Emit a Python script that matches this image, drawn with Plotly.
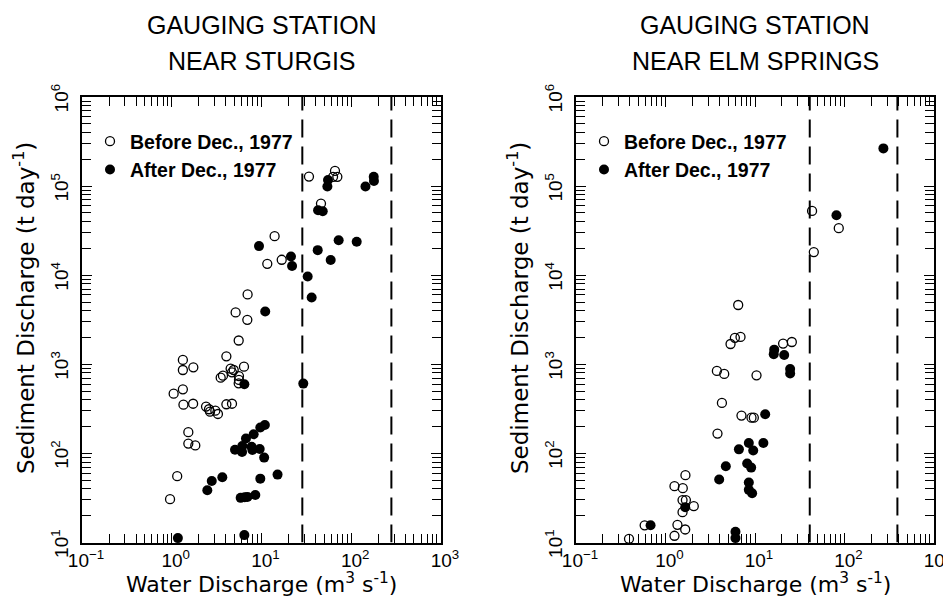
import plotly.graph_objects as go

# ---------------- data ----------------
# Left panel: Gauging station near Sturgis
sturgis_before_q = [33.8, 65.9, 62.7, 70.0, 46.0, 14.0, 11.6, 16.8, 7.0, 5.15, 6.95, 5.57, 4.06,
                    1.33, 1.33, 1.74, 6.38, 4.53, 4.90, 4.69, 3.72, 3.51, 5.61, 5.61, 5.57, 1.33,
                    1.05, 1.35, 1.73, 2.41, 2.60, 2.67, 3.06, 3.27, 4.06, 4.69, 1.53, 1.53, 1.83,
                    1.15, 0.957]
sturgis_before_s = [128000, 148000, 127000, 127000, 63700, 27400, 13400, 14900, 6080, 3820, 3160,
                    1850, 1230, 1120, 863, 925, 940, 893, 863, 813, 745, 708, 738, 667, 611, 524,
                    468, 352, 361, 335, 313, 294, 302, 277, 356, 361, 173, 129, 123, 55.5, 30.6]
sturgis_after_q = [55.1, 54.2, 42.7, 48.1, 144, 178, 179, 9.38, 21.3, 21.9, 42.3, 72.4, 115, 59.0,
                   32.7, 36.2, 11.0, 6.44, 29.2, 10.9, 9.70, 8.18, 6.71, 5.07, 6.07, 6.11, 7.76,
                   7.91, 9.55, 10.7, 3.66, 2.79, 2.49, 9.70, 15.1, 5.86, 6.50, 6.97, 8.53, 1.17, 6.44]
sturgis_after_s = [117000, 98900, 53600, 52200, 98900, 127000, 114000, 21200, 16200, 12700, 19100,
                   24700, 23700, 14800, 9680, 5620, 3920, 596, 607, 208, 195, 164, 147, 110, 104,
                   121, 119, 109, 112, 89.7, 54.0, 49.1, 38.6, 52.1, 57.8, 31.7, 32.2, 32.5, 34.2,
                   11.2, 12.1]
sturgis_limits = [28.5, 280]

# Right panel: Gauging station near Elm Springs
elm_before_q = [43.4, 45.4, 86.3, 6.49, 5.33, 5.96, 6.89, 20.6, 25.8, 3.75, 4.53, 10.4, 4.27, 7.06,
                9.14, 9.70, 3.81, 1.67, 1.26, 1.56, 1.55, 1.69, 1.55, 2.07, 1.36, 1.66, 1.26,
                0.585, 0.391]
elm_before_s = [52600, 18200, 33700, 4630, 1690, 1980, 2030, 1710, 1780, 843, 780, 753, 369, 266,
                252, 252, 167, 56.9, 42.9, 40.7, 29.9, 29.9, 21.9, 25.6, 15.8, 14.0, 11.9, 15.6, 11.0]
elm_after_q = [81.3, 272, 16.4, 16.2, 21.2, 24.7, 24.7, 13.0, 8.53, 12.4, 6.61, 9.55, 4.72, 8.18,
               9.06, 3.98, 8.53, 8.53, 9.29, 1.66, 0.681, 6.05, 6.05]
elm_after_s = [47000, 265000, 1460, 1300, 1270, 887, 787, 275, 131, 131, 111, 108, 71.8, 76.9, 69.3,
               50.9, 47.1, 39.0, 35.7, 24.9, 15.6, 13.2, 11.2]
elm_limits = [40.9, 390]

# axis ticks
x_major = [0.1, 1, 10, 100, 1000]
x_major_text = ["10<sup>−1</sup>", "10<sup>0</sup>", "10<sup>1</sup>", "10<sup>2</sup>", "10<sup>3</sup>"]
y_major = [10, 100, 1000, 10000, 100000, 1000000]
y_major_text = ["10<sup>1</sup>", "10<sup>2</sup>", "10<sup>3</sup>", "10<sup>4</sup>",
                "10<sup>5</sup>", "10<sup>6</sup>"]
minor_mult = [2, 3, 4, 5, 6, 7, 8, 9]

panel_titles = [("GAUGING STATION", "NEAR STURGIS"), ("GAUGING STATION", "NEAR ELM SPRINGS")]
legend_names = ["Before Dec., 1977", "After Dec., 1977"]
x_title = "Water Discharge (m<sup>3</sup> s<sup>-1</sup>)"
y_title = "Sediment Discharge (t day<sup>-1</sup>)"

# ---------------- figure ----------------
W, H = 951, 596
FONT = "Liberation Sans, Arial, Helvetica, sans-serif"
WIDE = "DejaVu Sans, Verdana, sans-serif"

x_minor = [m * v for v in x_major[:-1] for m in minor_mult]
y_minor = [m * v for v in y_major[:-1] for m in minor_mult]

fig = go.Figure()

panels = [
    (sturgis_before_q, sturgis_before_s, sturgis_after_q, sturgis_after_s, sturgis_limits, "x", "y", "legend"),
    (elm_before_q, elm_before_s, elm_after_q, elm_after_s, elm_limits, "x2", "y2", "legend2"),
]

for bq, bs, aq, as_, lims, xa, ya, lg in panels:
    for v in lims:
        fig.add_trace(go.Scatter(x=[v, v], y=[y_major[0], y_major[-1]], mode="lines",
                                 line=dict(color="black", width=2, dash="18px,9px"),
                                 xaxis=xa, yaxis=ya, showlegend=False, hoverinfo="skip"))
    fig.add_trace(go.Scatter(x=bq, y=bs, mode="markers", name=legend_names[0],
                             marker=dict(symbol="circle-open", size=9, color="black",
                                         line=dict(width=1.3, color="black")),
                             xaxis=xa, yaxis=ya, legend=lg, cliponaxis=False))
    fig.add_trace(go.Scatter(x=aq, y=as_, mode="markers", name=legend_names[1],
                             marker=dict(symbol="circle", size=10, color="black"),
                             xaxis=xa, yaxis=ya, legend=lg, cliponaxis=False))

x_domains = [[74 / W, 433 / W], [568 / W, 926 / W]]
y_domain = [1 - 534.5 / H, 1 - 89 / H]

def xaxis_style(dom, anchor):
    return dict(type="log", range=[-1, 3], domain=dom, anchor=anchor,
                showline=True, linecolor="black", linewidth=2, mirror="ticks",
                ticks="inside", ticklen=10, tickwidth=1.4, tickcolor="black",
                tickmode="array", tickvals=x_major, ticktext=x_major_text,
                ticklabelshift=4,
                minor=dict(tickmode="array", tickvals=x_minor, ticks="inside", ticklen=9,
                           tickwidth=1.4, tickcolor="black", showgrid=False),
                showgrid=False, zeroline=False, automargin=False,
                tickfont=dict(family=FONT, size=19, color="black"))

def yaxis_style(anchor):
    return dict(type="log", range=[1, 6], domain=y_domain, anchor=anchor,
                showline=True, linecolor="black", linewidth=2, mirror="ticks",
                ticks="inside", ticklen=10, tickwidth=1.4, tickcolor="black",
                tickmode="array", tickvals=y_major, ticktext=y_major_text,
                tickangle=-90, ticklabelstandoff=4, ticklabelshift=4,
                minor=dict(tickmode="array", tickvals=y_minor, ticks="inside", ticklen=9,
                           tickwidth=1.4, tickcolor="black", showgrid=False),
                showgrid=False, zeroline=False, automargin=False,
                tickfont=dict(family=FONT, size=19, color="black"))

annotations = []
for i, (t1, t2) in enumerate(panel_titles):
    cx = (x_domains[i][0] + x_domains[i][1]) / 2
    annotations.append(dict(text=t1, x=cx, y=1 - 17 / H, xref="paper", yref="paper",
                            xanchor="center", yanchor="middle", showarrow=False,
                            font=dict(family=FONT, size=25, color="black")))
    annotations.append(dict(text=t2, x=cx, y=1 - 53 / H, xref="paper", yref="paper",
                            xanchor="center", yanchor="middle", showarrow=False,
                            font=dict(family=FONT, size=25, color="black")))
    annotations.append(dict(text=x_title, x=cx, y=1 - 575 / H, xref="paper", yref="paper",
                            xanchor="center", yanchor="middle", showarrow=False, borderpad=0,
                            font=dict(family=WIDE, size=22, color="black")))
    annotations.append(dict(text=y_title, x=(x_domains[i][0] * W - 58) / W,
                            y=1 - 300 / H, xref="paper", yref="paper",
                            xanchor="center", yanchor="middle", textangle=-90, showarrow=False,
                            font=dict(family=WIDE, size=23, color="black")))

legend_common = dict(bgcolor="rgba(0,0,0,0)", borderwidth=0, xanchor="left", yanchor="top",
                     font=dict(family=FONT, size=19.5, color="black", weight="bold"),
                     tracegroupgap=0, itemwidth=30)

fig.update_layout(
    width=W, height=H,
    margin=dict(l=0, r=0, t=0, b=0),
    paper_bgcolor="white", plot_bgcolor="white",
    xaxis=xaxis_style(x_domains[0], "y"),
    yaxis=yaxis_style("x"),
    xaxis2=xaxis_style(x_domains[1], "y2"),
    yaxis2=yaxis_style("x2"),
    legend=dict(x=(x_domains[0][0] * W + 8) / W, y=1 - 114 / H, **legend_common),
    legend2=dict(x=(x_domains[1][0] * W + 8) / W, y=1 - 114 / H, **legend_common),
    annotations=annotations,
    showlegend=True,
)

fig.write_html("out.html")
